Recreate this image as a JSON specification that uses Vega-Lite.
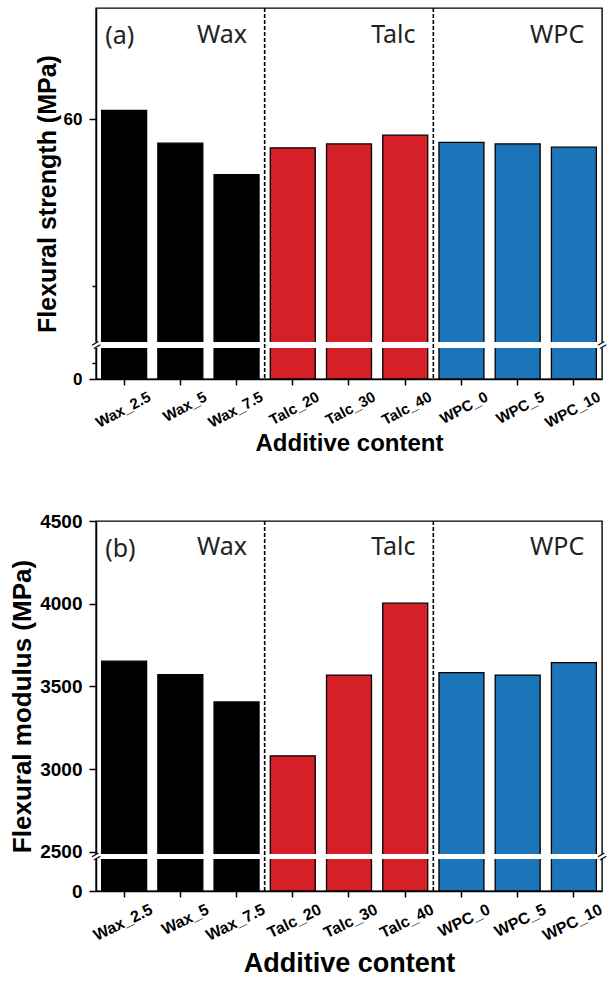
{
  "$schema": "https://vega.github.io/schema/vega-lite/v6.json",
  "background": "white",
  "padding": {"left": 9, "top": 6, "right": 1, "bottom": 2},
  "spacing": 54,
  "config": {
    "view": {"stroke": "black", "strokeWidth": 1.4},
    "font": "Liberation Sans",
    "axis": {
      "grid": false,
      "domainColor": "black",
      "domainWidth": 1.5,
      "tickColor": "black",
      "tickWidth": 1.5,
      "labelColor": "black",
      "titleColor": "black",
      "labelFont": "Liberation Sans",
      "titleFont": "Liberation Sans",
      "labelFontWeight": "bold",
      "titleFontWeight": "bold"
    },
    "axisX": {"tickSize": 6, "labelPadding": 4, "labelAlign": "right", "labelBaseline": "top"},
    "axisY": {"labelPadding": 7, "titlePadding": 1}
  },
  "datasets": {
    "strength": [
      {"sample": "Wax_2.5", "group": "Wax", "value": 61.08},
      {"sample": "Wax_5", "group": "Wax", "value": 57.14},
      {"sample": "Wax_7.5", "group": "Wax", "value": 53.37},
      {"sample": "Talc_20", "group": "Talc", "value": 56.58},
      {"sample": "Talc_30", "group": "Talc", "value": 57.06},
      {"sample": "Talc_40", "group": "Talc", "value": 58.11},
      {"sample": "WPC_0", "group": "WPC", "value": 57.23},
      {"sample": "WPC_5", "group": "WPC", "value": 57.06},
      {"sample": "WPC_10", "group": "WPC", "value": 56.66}
    ],
    "modulus": [
      {"sample": "Wax_2.5", "group": "Wax", "value": 3652},
      {"sample": "Wax_5", "group": "Wax", "value": 3571},
      {"sample": "Wax_7.5", "group": "Wax", "value": 3406},
      {"sample": "Talc_20", "group": "Talc", "value": 3080},
      {"sample": "Talc_30", "group": "Talc", "value": 3568},
      {"sample": "Talc_40", "group": "Talc", "value": 4003},
      {"sample": "WPC_0", "group": "WPC", "value": 3583},
      {"sample": "WPC_5", "group": "WPC", "value": 3568},
      {"sample": "WPC_10", "group": "WPC", "value": 3643}
    ],
    "groupLabels": [
      {"label": "Wax", "anchor": "Wax_7.5"},
      {"label": "Talc", "anchor": "Talc_40"},
      {"label": "WPC", "anchor": "WPC_10"}
    ],
    "dividers": [
      {"after": "Wax_7.5"},
      {"after": "Talc_40"}
    ]
  },
  "vconcat": [
    {
      "width": 506,
      "height": 371,
      "layer": [
        {
          "data": {"name": "strength"},
          "mark": {"type": "bar", "stroke": "black", "strokeWidth": 1.3},
          "encoding": {
            "x": {
              "field": "sample", "type": "nominal", "sort": null, "title": "Additive content",
              "scale": {"domain": ["Wax_2.5","Wax_5","Wax_7.5","Talc_20","Talc_30","Talc_40","WPC_0","WPC_5","WPC_10"], "paddingInner": 0.2, "paddingOuter": 0.1},
              "axis": {"labelAngle": -28, "labelFontSize": 15, "labelOffset": 22, "titleFontSize": 24, "titlePadding": 1}
            },
            "y": {
              "field": "value", "type": "quantitative", "title": "Flexural strength (MPa)",
              "scale": {"domain": [0, 20, 33.1, 73.41], "range": [371, 339, 335, 0], "nice": false, "zero": false},
              "axis": {
                "values": [0, 10, 40, 60],
                "labelFontSize": 17,
                "titleFontSize": 25,
                "titlePadding": 3,
                "labelExpr": "datum.value === 0 || datum.value === 60 ? datum.label : ''",
                "tickSize": {"condition": {"test": "datum.value === 0 || datum.value === 60", "value": 7}, "value": 4}
              }
            },
            "color": {
              "field": "group", "type": "nominal",
              "scale": {"domain": ["Wax", "Talc", "WPC"], "range": ["#000000", "#D52027", "#1B75B8"]},
              "legend": null
            }
          }
        },
        {
          "data": {"values": [{}]},
          "mark": {"type": "rect", "fill": "white", "stroke": "white", "strokeWidth": 2},
          "encoding": {
            "y": {"datum": 20, "type": "quantitative", "title": "Flexural strength (MPa)"},
            "y2": {"datum": 33.1}
          }
        },
        {
          "data": {"name": "dividers"},
          "mark": {"type": "rule", "strokeDash": [4, 2], "strokeWidth": 1.6, "color": "black"},
          "encoding": {
            "x": {"field": "after", "type": "nominal", "bandPosition": 1.125, "title": "Additive content"}
          }
        },
        {
          "data": {"values": [{"sym": "="}]},
          "mark": {"type": "text", "align": "center", "baseline": "middle", "fontSize": 15, "angle": -30, "color": "black"},
          "encoding": {
            "x": {"datum": "Wax_2.5", "type": "nominal", "bandPosition": -0.125, "title": "Additive content"},
            "y": {"datum": 26.5, "type": "quantitative", "title": "Flexural strength (MPa)"},
            "text": {"field": "sym"}
          }
        },
        {
          "data": {"values": [{"sym": "="}]},
          "mark": {"type": "text", "align": "center", "baseline": "middle", "fontSize": 15, "angle": -30, "color": "black"},
          "encoding": {
            "x": {"datum": "WPC_10", "type": "nominal", "bandPosition": 1.125, "title": "Additive content"},
            "y": {"datum": 26.5, "type": "quantitative", "title": "Flexural strength (MPa)"},
            "text": {"field": "sym"}
          }
        },
        {
          "data": {"name": "groupLabels"},
          "mark": {"type": "text", "align": "right", "baseline": "middle", "font": "Noto Sans", "fontSize": 25, "color": "#222222"},
          "encoding": {
            "x": {"field": "anchor", "type": "nominal", "bandPosition": 0.73, "title": "Additive content"},
            "y": {"datum": 70.2, "type": "quantitative", "title": "Flexural strength (MPa)"},
            "text": {"field": "label"}
          }
        },
        {
          "data": {"values": [{"label": "(a)", "anchor": "Wax_2.5"}]},
          "mark": {"type": "text", "align": "left", "baseline": "middle", "font": "Noto Sans", "fontSize": 25, "color": "#222222"},
          "encoding": {
            "x": {"field": "anchor", "type": "nominal", "bandPosition": 0.08, "title": "Additive content"},
            "y": {"datum": 70.0, "type": "quantitative", "title": "Flexural strength (MPa)"},
            "text": {"field": "label"}
          }
        }
      ]
    },
    {
      "width": 506,
      "height": 370,
      "layer": [
        {
          "data": {"name": "modulus"},
          "mark": {"type": "bar", "stroke": "black", "strokeWidth": 1.3},
          "encoding": {
            "x": {
              "field": "sample", "type": "nominal", "sort": null, "title": "Additive content",
              "scale": {"domain": ["Wax_2.5","Wax_5","Wax_7.5","Talc_20","Talc_30","Talc_40","WPC_0","WPC_5","WPC_10"], "paddingInner": 0.2, "paddingOuter": 0.1},
              "axis": {"labelAngle": -26, "labelFontSize": 16, "labelOffset": 24, "titleFontSize": 27, "titlePadding": 7}
            },
            "y": {
              "field": "value", "type": "quantitative", "title": "Flexural modulus (MPa)",
              "scale": {"domain": [0, 1000, 2480, 4500], "range": [370, 337, 334, 0], "nice": false, "zero": false},
              "axis": {
                "values": [0, 500, 2500, 2750, 3000, 3250, 3500, 3750, 4000, 4250, 4500],
                "labelFontSize": 19,
                "titleFontSize": 26,
                "titlePadding": 4,
                "labelExpr": "datum.value % 500 === 0 && datum.value !== 500 ? datum.label : ''",
                "format": "d",
                "tickSize": {"condition": {"test": "datum.value % 500 === 0 && datum.value !== 500", "value": 7}, "value": 4}
              }
            },
            "color": {
              "field": "group", "type": "nominal",
              "scale": {"domain": ["Wax", "Talc", "WPC"], "range": ["#000000", "#D52027", "#1B75B8"]},
              "legend": null
            }
          }
        },
        {
          "data": {"values": [{}]},
          "mark": {"type": "rect", "fill": "white", "stroke": "white", "strokeWidth": 2},
          "encoding": {
            "y": {"datum": 1000, "type": "quantitative", "title": "Flexural modulus (MPa)"},
            "y2": {"datum": 2480}
          }
        },
        {
          "data": {"name": "dividers"},
          "mark": {"type": "rule", "strokeDash": [4, 2], "strokeWidth": 1.6, "color": "black"},
          "encoding": {
            "x": {"field": "after", "type": "nominal", "bandPosition": 1.125, "title": "Additive content"}
          }
        },
        {
          "data": {"values": [{"sym": "="}]},
          "mark": {"type": "text", "align": "center", "baseline": "middle", "fontSize": 15, "angle": -30, "color": "black"},
          "encoding": {
            "x": {"datum": "Wax_2.5", "type": "nominal", "bandPosition": -0.125, "title": "Additive content"},
            "y": {"datum": 1740, "type": "quantitative", "title": "Flexural modulus (MPa)"},
            "text": {"field": "sym"}
          }
        },
        {
          "data": {"values": [{"sym": "="}]},
          "mark": {"type": "text", "align": "center", "baseline": "middle", "fontSize": 15, "angle": -30, "color": "black"},
          "encoding": {
            "x": {"datum": "WPC_10", "type": "nominal", "bandPosition": 1.125, "title": "Additive content"},
            "y": {"datum": 1740, "type": "quantitative", "title": "Flexural modulus (MPa)"},
            "text": {"field": "sym"}
          }
        },
        {
          "data": {"name": "groupLabels"},
          "mark": {"type": "text", "align": "right", "baseline": "middle", "font": "Noto Sans", "fontSize": 25, "color": "#222222"},
          "encoding": {
            "x": {"field": "anchor", "type": "nominal", "bandPosition": 0.73, "title": "Additive content"},
            "y": {"datum": 4343, "type": "quantitative", "title": "Flexural modulus (MPa)"},
            "text": {"field": "label"}
          }
        },
        {
          "data": {"values": [{"label": "(b)", "anchor": "Wax_2.5"}]},
          "mark": {"type": "text", "align": "left", "baseline": "middle", "font": "Noto Sans", "fontSize": 25, "color": "#222222"},
          "encoding": {
            "x": {"field": "anchor", "type": "nominal", "bandPosition": 0.08, "title": "Additive content"},
            "y": {"datum": 4330, "type": "quantitative", "title": "Flexural modulus (MPa)"},
            "text": {"field": "label"}
          }
        }
      ]
    }
  ]
}
